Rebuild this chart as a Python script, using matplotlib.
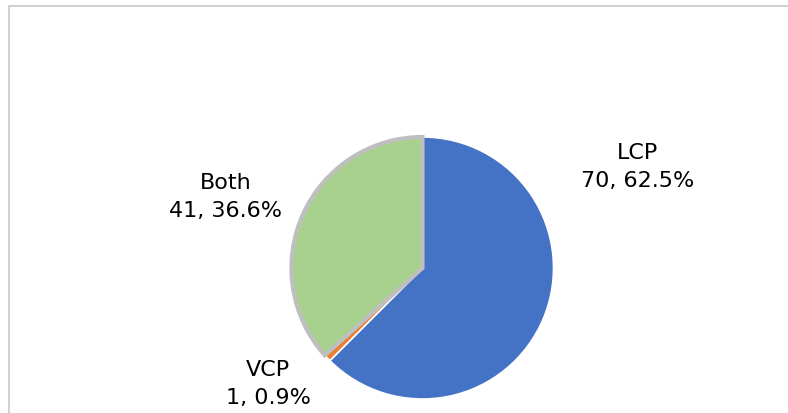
import matplotlib.pyplot as plt
from matplotlib.patches import Rectangle

labels = ['LCP', 'VCP', 'Both']
counts = [70, 1, 41]
colors = ['#4472C4', '#ED7D31', '#A9D18E']
explode = [0, 0.018, 0.03]

total = sum(counts)
label_text = ['%s\n%d, %.1f%%' % (n, c, c / total * 100) for n, c in zip(labels, counts)]

# label centres in pixel coords (y measured from bottom)
label_pos = [(638, 414 - 167), (268, 414 - 384), (226, 414 - 197)]

fig = plt.figure(figsize=(7.88, 4.14), dpi=100)
ax = fig.add_axes([0, 0, 1, 1])

# chart frame, only top and left visible
fig.patches.append(Rectangle((9, -20), 900, 414 - 7 + 20, transform=None,
                             fill=False, edgecolor='#c8c8c8', linewidth=1.2))

wedges, _ = ax.pie(counts, colors=colors, explode=explode, startangle=90,
                   counterclock=False, center=(422.5, 414 - 269), radius=131,
                   wedgeprops=dict(edgecolor='white', linewidth=1.2),
                   frame=True)
wedges[2].set_edgecolor('#BFBFBF')
wedges[2].set_linewidth(3)
wedges[2].set_zorder(3)
ax.set_xlim(0, 788)
ax.set_ylim(0, 414)
ax.set_aspect('equal')
ax.axis('off')

for txt, (x, y) in zip(label_text, label_pos):
    ax.text(x, y, txt, ha='center', va='center', fontsize=16,
            family='DejaVu Sans', color='black', linespacing=1.55)

fig.savefig('out.png', dpi=100)
